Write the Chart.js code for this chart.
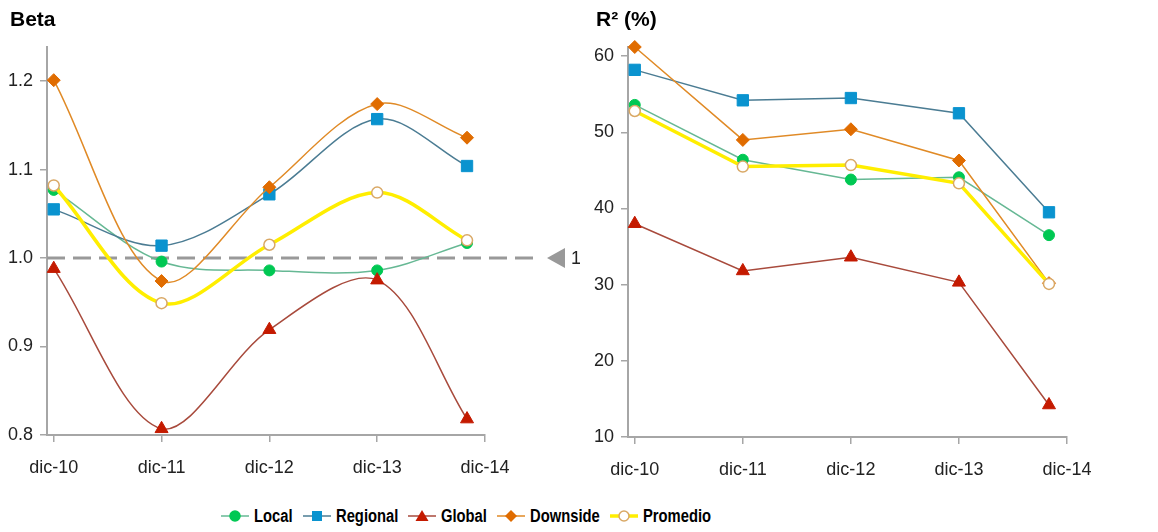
<!DOCTYPE html>
<html>
<head>
<meta charset="utf-8">
<script src="https://cdn.jsdelivr.net/npm/chart.js@4.4.1/dist/chart.umd.min.js"></script>
<style>
  body { margin: 0; background: #fff; width: 1158px; height: 532px; overflow: hidden; position: relative; }
  canvas { position: absolute; top: 0; }
  #cBeta { left: 0; }
  #cR2 { left: 580px; }
  #leyenda { position: absolute; top: 504px; left: 221px; display: flex; align-items: center; height: 24px;
    font-family: "Liberation Sans", Arial, sans-serif; font-weight: bold; font-size: 18px; color: #000; white-space: nowrap; }
  #leyenda .item { display: flex; align-items: center; margin-right: 10px; }
  #leyenda svg { margin-right: 5px; }
  #leyenda span { display: inline-block; transform: scaleX(0.82); transform-origin: left center; }
</style>
</head>
<body>
<canvas id="cBeta" width="580" height="482"></canvas>
<canvas id="cR2" width="578" height="484"></canvas>
<div id="leyenda"></div>
<script>
// periodos (meses desde dic-10) y etiquetas del eje
const etiquetas = ["dic-10", "dic-11", "dic-12", "dic-13", "dic-14"];
const tickMeses = [0, 12, 24, 36, 48];
const meses = [0, 12, 24, 36, 46];
const series = ["Local", "Regional", "Global", "Downside", "Promedio"];

// Beta
const betaLocal    = [1.077, 0.996, 0.986, 0.986, 1.017];
const betaRegional = [1.055, 1.014, 1.072, 1.157, 1.104];
const betaGlobal   = [0.988, 0.807, 0.919, 0.975, 0.818];
const betaDownside = [1.201, 0.974, 1.080, 1.174, 1.136];
const betaPromedio = [1.082, 0.949, 1.015, 1.074, 1.020];
const betaTicks = [0.8, 0.9, 1.0, 1.1, 1.2];
const betaRef = 1;

// R2 (%)
const r2Local    = [53.6, 46.4, 43.8, 44.1, 36.5];
const r2Regional = [58.2, 54.2, 54.5, 52.5, 39.5];
const r2Global   = [38.0, 31.8, 33.6, 30.3, 14.2];
const r2Downside = [61.2, 49.0, 50.4, 46.3, 30.2];
const r2Promedio = [52.8, 45.5, 45.7, 43.3, 30.1];
const r2Ticks = [10, 20, 30, 40, 50, 60];

// estilos por serie
const estilos = [
  { line: "#66b894", fill: "#00c853", border: "#00c853", shape: "circle", r: 5.5, lw: 1.5 },
  { line: "#4b7c93", fill: "#0a93cf", border: "#0a93cf", shape: "rect", r: 8, lw: 1.5 },
  { line: "#a84a3c", fill: "#c41a00", border: "#c41a00", shape: "triangle", r: 7.5, lw: 1.5 },
  { line: "#e08a26", fill: "#e06c00", border: "#e06c00", shape: "rectRot", r: 6.5, lw: 1.5 },
  { line: "#ffee00", fill: "#ffffff", border: "#d9a865", shape: "circle", r: 5.5, lw: 3.5 }
];

Chart.defaults.font.family = "'Liberation Sans', Arial, sans-serif";
Chart.defaults.font.size = 18;
Chart.defaults.color = "#222";

function armarDatasets(valores, tension) {
  return valores.map(function (vals, i) {
    let e = estilos[i];
    return {
      label: series[i],
      data: vals.map(function (v, k) { return { x: meses[k], y: v }; }),
      borderColor: e.line,
      borderWidth: e.lw,
      pointStyle: e.shape,
      pointRadius: e.r,
      pointBackgroundColor: e.fill,
      pointBorderColor: e.border,
      pointBorderWidth: i == 4 ? 1.5 : 1,
      tension: tension,
      clip: false,
      order: 5 - i
    };
  });
}

// titulo de cada panel
const titulo = {
  id: "titulo",
  afterDraw: function (chart, args, opts) {
    let ctx = chart.ctx;
    ctx.save();
    ctx.fillStyle = "#000";
    ctx.font = "bold 21px 'Liberation Sans', Arial, sans-serif";
    ctx.textBaseline = "middle";
    ctx.textAlign = "left";
    ctx.fillText(opts.text, opts.x, 20);
    ctx.restore();
  }
};

function opciones(textoTitulo, tituloX, yMin, yMax, yTicks, yWidth, padRight, decimales) {
  return {
    responsive: false,
    animation: false,
    layout: { padding: { left: 0, right: padRight, top: 47, bottom: 0 } },
    plugins: {
      legend: { display: false },
      tooltip: { enabled: false },
      titulo: { text: textoTitulo, x: tituloX }
    },
    scales: {
      x: {
        type: "linear", min: -0.75, max: 48,
        afterBuildTicks: function (s) { s.ticks = tickMeses.map(function (v) { return { value: v }; }); },
        afterFit: function (s) { s.height = 47; },
        ticks: { padding: 15, maxRotation: 0, autoSkip: false,
          callback: function (v) { return etiquetas[tickMeses.indexOf(v)]; } },
        grid: { drawOnChartArea: false, drawTicks: true, tickLength: 7, color: "#a6a6a6", lineWidth: 1.5 },
        border: { color: "#a6a6a6", width: 2 }
      },
      y: {
        min: yMin, max: yMax,
        afterBuildTicks: function (s) { s.ticks = yTicks.map(function (v) { return { value: v }; }); },
        afterFit: function (s) { s.width = yWidth; },
        ticks: { padding: 7, callback: function (v) { return v.toFixed(decimales); } },
        grid: { drawOnChartArea: false, drawTicks: true, tickLength: 7, color: "#a6a6a6", lineWidth: 1.5 },
        border: { color: "#a6a6a6", width: 2 }
      }
    }
  };
}

// linea de referencia beta = 1
const lineaRef = {
  id: "lineaRef",
  beforeDatasetsDraw: function (chart) {
    let ca = chart.chartArea;
    let y = chart.scales.y.getPixelForValue(betaRef);
    let ctx = chart.ctx;
    ctx.save();
    ctx.strokeStyle = "#999";
    ctx.lineWidth = 3;
    ctx.setLineDash([18, 8]);
    ctx.beginPath();
    ctx.moveTo(ca.left, y);
    ctx.lineTo(ca.right + 55, y);
    ctx.stroke();
    ctx.setLineDash([]);
    ctx.fillStyle = "#999";
    ctx.beginPath();
    ctx.moveTo(ca.right + 62, y);
    ctx.lineTo(ca.right + 80, y - 10);
    ctx.lineTo(ca.right + 80, y + 10);
    ctx.closePath();
    ctx.fill();
    ctx.fillStyle = "#222";
    ctx.font = "18px 'Liberation Sans', Arial, sans-serif";
    ctx.textBaseline = "middle";
    ctx.textAlign = "left";
    ctx.fillText(String(betaRef), ca.right + 86, y + 1);
    ctx.restore();
  }
};

new Chart(document.getElementById("cBeta"), {
  type: "line",
  data: { datasets: armarDatasets([betaLocal, betaRegional, betaGlobal, betaDownside, betaPromedio], 0.33) },
  options: opciones("Beta", 10, 0.8, 1.2385, betaTicks, 47, 95, 1),
  plugins: [lineaRef, titulo]
});

new Chart(document.getElementById("cR2"), {
  type: "line",
  data: { datasets: armarDatasets([r2Local, r2Regional, r2Global, r2Downside, r2Promedio], 0) },
  options: opciones("R\u00b2 (%)", 16, 10, 61.2, r2Ticks, 48, 91, 0),
  plugins: [titulo]
});

// leyenda comun
function marcador(e) {
  let cx = 14, cy = 7;
  if (e.shape == "circle") return '<circle cx="' + cx + '" cy="' + cy + '" r="' + (e.r - 0.5) + '" fill="' + e.fill + '" stroke="' + e.border + '" stroke-width="1.5"/>';
  if (e.shape == "rect") return '<rect x="' + (cx - 5) + '" y="' + (cy - 5) + '" width="10" height="10" fill="' + e.fill + '"/>';
  if (e.shape == "triangle") return '<polygon points="' + cx + ',' + (cy - 6) + ' ' + (cx + 6.5) + ',' + (cy + 5) + ' ' + (cx - 6.5) + ',' + (cy + 5) + '" fill="' + e.fill + '"/>';
  return '<polygon points="' + cx + ',' + (cy - 6) + ' ' + (cx + 6) + ',' + cy + ' ' + cx + ',' + (cy + 6) + ' ' + (cx - 6) + ',' + cy + '" fill="' + e.fill + '"/>';
}
let html = "";
for (let i = 0; i < series.length; i++) {
  let e = estilos[i];
  html += '<div class="item"><svg width="28" height="14"><line x1="0" y1="7" x2="28" y2="7" stroke="' + e.line +
    '" stroke-width="' + (i == 4 ? 3.5 : 1.5) + '"/>' + marcador(e) + '</svg><span>' + series[i] + '</span></div>';
}
document.getElementById("leyenda").innerHTML = html;
// el texto va comprimido (fuente estrecha): descontar el ancho sobrante
document.querySelectorAll("#leyenda span").forEach(function (s) {
  s.style.marginRight = (-0.18 * s.offsetWidth) + "px";
});
</script>
</body>
</html>
